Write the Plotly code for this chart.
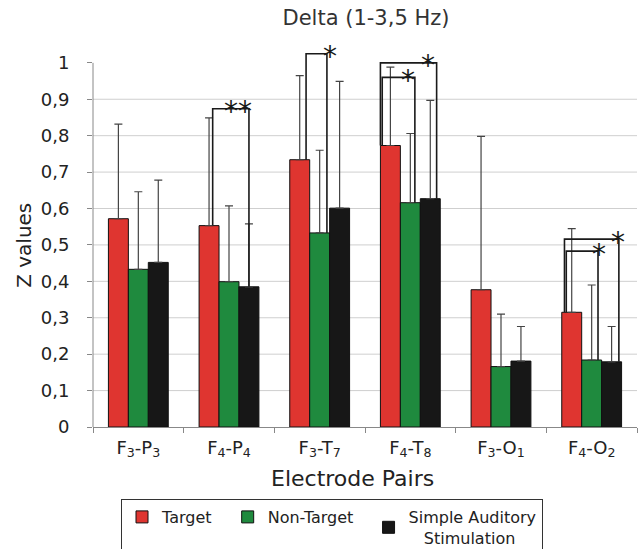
import plotly.graph_objects as go

# ---------------- data ----------------
categories = ["F<sub>3</sub>-P<sub>3</sub>", "F<sub>4</sub>-P<sub>4</sub>", "F<sub>3</sub>-T<sub>7</sub>",
              "F<sub>4</sub>-T<sub>8</sub>", "F<sub>3</sub>-O<sub>1</sub>", "F<sub>4</sub>-O<sub>2</sub>"]
series_names = ["Target", "Non-Target", "Simple Auditory<br>\u00a0\u00a0\u00a0Stimulation"]
target = [0.572, 0.553, 0.734, 0.773, 0.377, 0.315]
target_err_top = [0.832, 0.849, 0.965, 0.988, 0.798, 0.545]
nontarget = [0.433, 0.399, 0.533, 0.616, 0.166, 0.184]
nontarget_err_top = [0.646, 0.607, 0.760, 0.806, 0.310, 0.390]
simple = [0.452, 0.385, 0.601, 0.627, 0.181, 0.179]
simple_err_top = [0.678, 0.558, 0.949, 0.897, 0.276, 0.276]
ytick_vals = [0, 0.1, 0.2, 0.3, 0.4, 0.5, 0.6, 0.7, 0.8, 0.9, 1]
ytick_labels = ["0", "0,1", "0,2", "0,3", "0,4", "0,5", "0,6", "0,7", "0,8", "0,9", "1"]

# significance brackets: category index, compared series index, bracket height, stars
bracket_cat = [1, 2, 3, 3, 5, 5]
bracket_to = [2, 1, 2, 1, 2, 1]
bracket_h = [0.874, 1.025, 1.000, 0.960, 0.516, 0.483]
bracket_stars = ["**", "*", "*", "*", "*", "*"]

# ---------------- style ----------------
colors = ["#DF3530", "#1F8A3E", "#171717"]
bar_offsets = [-0.22, 0.0, 0.22]
left_shift = [0.04, 0.07, -0.11, -0.09, -0.08, -0.06]
right_shift = [0.0, 0.08, 0.07, 0.05, 0.08, 0.07]
star_dx = [-0.12, 0.03, -0.10, -0.08, -0.01, 0.01]
legend_pad = ["\u00a0\u00a0", "\u00a0\u00a0", ""]
FONT = "DejaVu Sans"

values = [target, nontarget, simple]
tops = [target_err_top, nontarget_err_top, simple_err_top]
xs = list(range(len(categories)))

fig = go.Figure()
for name, pad, vals, tp, col in zip(series_names, legend_pad, values, tops, colors):
    fig.add_trace(go.Bar(
        x=xs, y=vals, name=name + pad,
        marker=dict(color=col, line=dict(color="#111", width=1)),
        error_y=dict(type="data", symmetric=False,
                     array=[t - v for t, v in zip(tp, vals)],
                     arrayminus=[0] * len(vals),
                     color="#444", thickness=1.2, width=4),
    ))

annotations = []
for c, to, h, st, dl, dr, sdx in zip(bracket_cat, bracket_to, bracket_h, bracket_stars,
                                     left_shift, right_shift, star_dx):
    xl = c + bar_offsets[0] + dl
    xr = c + bar_offsets[to] + dr
    fig.add_trace(go.Scatter(
        x=[xl, xl, xr, xr], y=[values[0][c], h, h, values[to][c]],
        mode="lines", line=dict(color="#1a1a1a", width=1.6),
        showlegend=False, hoverinfo="skip", cliponaxis=False,
    ))
    annotations.append(dict(x=xr + sdx, y=h, xref="x", yref="y", text=st,
                            showarrow=False, xanchor="center", yanchor="middle", yshift=-3,
                            font=dict(family=FONT, size=28, color="#1a1a1a")))

shapes = []
for v in ytick_vals[1:-1]:
    shapes.append(dict(type="line", xref="paper", yref="y", x0=0, x1=1, y0=v, y1=v,
                       line=dict(color="#cfcfcf", width=1), layer="below"))
shapes.append(dict(type="line", xref="paper", yref="y", x0=0, x1=0, y0=0, y1=1,
                   line=dict(color="#888", width=1)))

annotations.append(dict(x=-0.127, y=0.5, xref="paper", yref="y", text="Z values",
                        textangle=-90, showarrow=False, xanchor="center", yanchor="middle",
                        font=dict(family=FONT, size=20, color="#222")))
annotations.append(dict(x=(352 - 93) / 544, y=-(478 - 427) / 386, xref="paper", yref="paper",
                        text="Electrode Pairs", showarrow=False, xanchor="center",
                        yanchor="middle", font=dict(family=FONT, size=22, color="#222")))

fig.update_layout(
    width=640, height=549,
    margin=dict(l=93, r=3, t=41, b=122, autoexpand=False),
    paper_bgcolor="white", plot_bgcolor="white",
    barmode="group", bargap=0.34, bargroupgap=0,
    title=dict(text="Delta (1-3,5 Hz)", x=366 / 640, xanchor="center", xref="container",
               y=1 - 18 / 549, yanchor="middle", yref="container",
               font=dict(family=FONT, size=21, color="#333")),
    font=dict(family=FONT, color="#222"),
    shapes=shapes, annotations=annotations,
    legend=dict(orientation="h", xref="container", x=121 / 640, xanchor="left",
                yref="container", y=1 - 499 / 549, yanchor="top",
                bordercolor="#333", borderwidth=1,
                font=dict(family=FONT, size=16, color="#222"), itemwidth=30),
    xaxis=dict(range=[-0.5, 5.5], tickmode="array", tickvals=xs, ticktext=categories,
               ticks="", showline=True, linecolor="#888", linewidth=1, showgrid=False,
               zeroline=False, automargin=False, ticklabelstandoff=4,
               tickfont=dict(family=FONT, size=18, color="#222"),
               minor=dict(tickmode="array", tickvals=[i - 0.5 for i in range(len(categories) + 1)],
                          ticks="outside", ticklen=5, tickcolor="#888", showgrid=False)),
    yaxis=dict(range=[0, 1.06], tickmode="array", tickvals=ytick_vals, ticktext=ytick_labels,
               ticks="outside", ticklen=5, tickcolor="#888", showgrid=False, showline=False,
               zeroline=False, automargin=False, ticklabelstandoff=14,
               tickfont=dict(family=FONT, size=18, color="#222")),
)

fig.write_html("out.html", config={"displayModeBar": False},
               post_script="document.body.style.margin='0';document.body.style.padding='0';")
